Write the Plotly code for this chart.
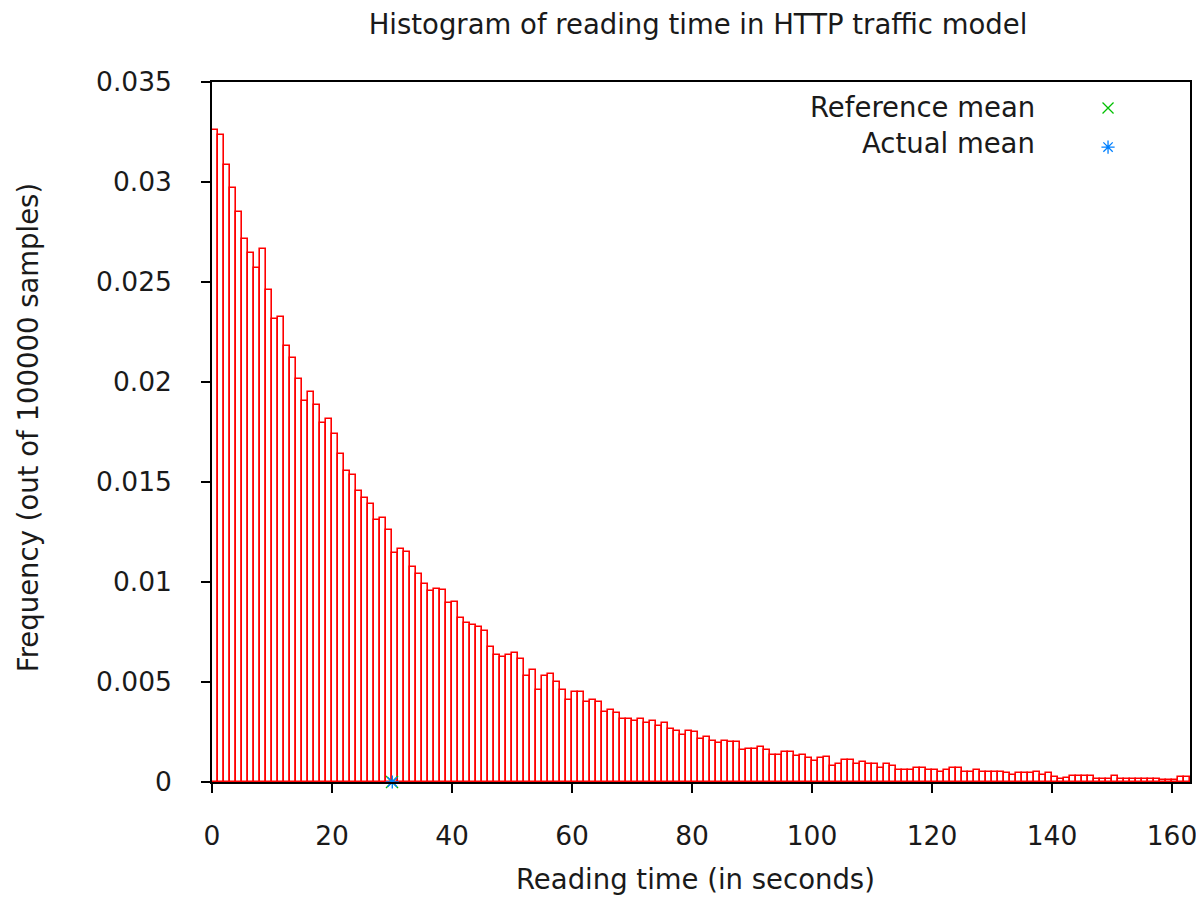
import plotly.graph_objects as go

# ---- data ----
bin_left = list(range(163))  # left edge of each 1-second bin
freq = [
    0.0326, 0.03233, 0.03085, 0.02968, 0.0285, 0.02715, 0.02647, 0.02568, 0.02667, 0.0246,
    0.02313, 0.02323, 0.0218, 0.02118, 0.02013, 0.01905, 0.01952, 0.01885, 0.01797, 0.01817,
    0.0174, 0.0164, 0.01557, 0.01535, 0.01455, 0.01418, 0.01388, 0.0131, 0.01322, 0.0126,
    0.01143, 0.01163, 0.01152, 0.01073, 0.0104, 0.00988, 0.00957, 0.00967, 0.0096, 0.00893,
    0.009, 0.00822, 0.00795, 0.00785, 0.00773, 0.00755, 0.00673, 0.00635, 0.00625, 0.00635,
    0.00643, 0.00617, 0.0053, 0.0056, 0.0046, 0.0053, 0.00538, 0.00498, 0.0046, 0.0041,
    0.00448, 0.00448, 0.00402, 0.0041, 0.00402, 0.00352, 0.0036, 0.00343, 0.00313, 0.00313,
    0.00303, 0.00313, 0.00293, 0.00305, 0.00282, 0.00297, 0.00263, 0.00255, 0.00235, 0.00255,
    0.00248, 0.00213, 0.00223, 0.00205, 0.00197, 0.00207, 0.00198, 0.00198, 0.0016, 0.00167,
    0.00167, 0.00177, 0.0016, 0.00137, 0.00137, 0.00148, 0.00148, 0.00132, 0.00135, 0.00118,
    0.00107, 0.00118, 0.00127, 0.0008, 0.0009, 0.0011, 0.0011, 0.0009, 0.001, 0.0009,
    0.0009, 0.00068, 0.0009, 0.0008, 0.00058, 0.00058, 0.00058, 0.00068, 0.00068, 0.00058,
    0.00058, 0.00048, 0.00058, 0.00068, 0.00068, 0.00048, 0.00048, 0.00058, 0.0005, 0.0005,
    0.0005, 0.0005, 0.00043, 0.00035, 0.00043, 0.00043, 0.00043, 0.00052, 0.00035, 0.00043,
    0.00027, 0.00017, 0.0002, 0.0003, 0.0003, 0.0003, 0.0003, 0.00017, 0.00017, 0.00017,
    0.00032, 0.00017, 0.00017, 0.00017, 0.00017, 0.00017, 0.00017, 0.00017, 0.0001, 0.0001,
    0.0001, 0.00023, 0.00023,
]
bin_width = 1
reference_mean = 30.0
actual_mean = 30.05
legend_labels = ["Reference mean", "Actual mean"]
x_ticks = [0, 20, 40, 60, 80, 100, 120, 140, 160]
y_ticks = [0, 0.005, 0.01, 0.015, 0.02, 0.025, 0.03, 0.035]

FONT = "DejaVu Sans"
TXT = "#1a1a1a"
RED = "#ff0000"
GREEN = "#00c000"
BLUE = "#0080ff"
TITLE_SIZE = 27.5
TICK_SIZE = 26.5

fig = go.Figure()

fig.add_trace(go.Bar(
    x=[b + bin_width / 2 for b in bin_left], y=freq, width=bin_width,
    marker=dict(color="white", line=dict(color=RED, width=1.6)),
    showlegend=False, hoverinfo="x+y",
))

fig.add_trace(go.Scatter(
    x=[reference_mean], y=[0], mode="markers", name=legend_labels[0],
    marker=dict(symbol="x-thin", size=12, line=dict(color=GREEN, width=1.4)),
    cliponaxis=False, showlegend=False,
))
fig.add_trace(go.Scatter(
    x=[actual_mean], y=[0], mode="markers", name=legend_labels[1],
    marker=dict(symbol="asterisk", size=11, line=dict(color=BLUE, width=1.4)),
    cliponaxis=False, showlegend=False,
))

# legend keys (gnuplot style: text right-aligned, symbol to the right)
key_x = 0.9162
key_y = [0.9629, 0.9071]
text_y = [0.9643, 0.9129]
fig.add_trace(go.Scatter(
    x=[key_x], y=[key_y[0]], xaxis="x2", yaxis="y2", mode="markers",
    marker=dict(symbol="x-thin", size=11, line=dict(color=GREEN, width=1.3)),
    showlegend=False, hoverinfo="skip",
))
fig.add_trace(go.Scatter(
    x=[key_x], y=[key_y[1]], xaxis="x2", yaxis="y2", mode="markers",
    marker=dict(symbol="asterisk", size=11, line=dict(color=BLUE, width=1.3)),
    showlegend=False, hoverinfo="skip",
))
for lbl, ty in zip(legend_labels, text_y):
    fig.add_annotation(
        x=0.8436, y=ty, xref="paper", yref="paper", text=lbl, showarrow=False,
        xanchor="right", yanchor="middle",
        font=dict(family=FONT, size=TITLE_SIZE, color=TXT),
    )

# axis titles
fig.add_annotation(
    x=0.494, y=-0.138, xref="paper", yref="paper", text="Reading time (in seconds)",
    showarrow=False, xanchor="center", yanchor="middle",
    font=dict(family=FONT, size=TITLE_SIZE, color=TXT),
)
fig.add_annotation(
    x=-0.188, y=0.5057, xref="paper", yref="paper", text="Frequency (out of 100000 samples)",
    showarrow=False, xanchor="center", yanchor="middle", textangle=-90,
    font=dict(family=FONT, size=TITLE_SIZE, color=TXT),
)

axis_common = dict(
    showline=True, linecolor="black", linewidth=1.5, mirror=True,
    ticks="outside", ticklen=9, tickwidth=1.5, tickcolor="black",
    showgrid=False, zeroline=False, automargin=False,
    tickfont=dict(family=FONT, size=TICK_SIZE, color=TXT),
)

fig.update_layout(
    width=1204, height=901,
    margin=dict(l=204, r=22, t=74, b=127),
    paper_bgcolor="white", plot_bgcolor="white",
    bargap=0,
    title=dict(
        text="Histogram of reading time in HTTP traffic model",
        x=690 / 1204, xanchor="center",
        y=1 - 16 / 901, yanchor="middle", yref="container",
        font=dict(family=FONT, size=TITLE_SIZE, color=TXT),
    ),
    xaxis=dict(range=[0, 163], tickvals=x_ticks, ticklabelstandoff=20, **axis_common),
    yaxis=dict(range=[0, 0.035], tickvals=y_ticks, ticklabelstandoff=24, **axis_common),
    xaxis2=dict(range=[0, 1], overlaying="x", visible=False),
    yaxis2=dict(range=[0, 1], overlaying="y", visible=False),
    showlegend=False,
)

fig.write_html("out.html")
